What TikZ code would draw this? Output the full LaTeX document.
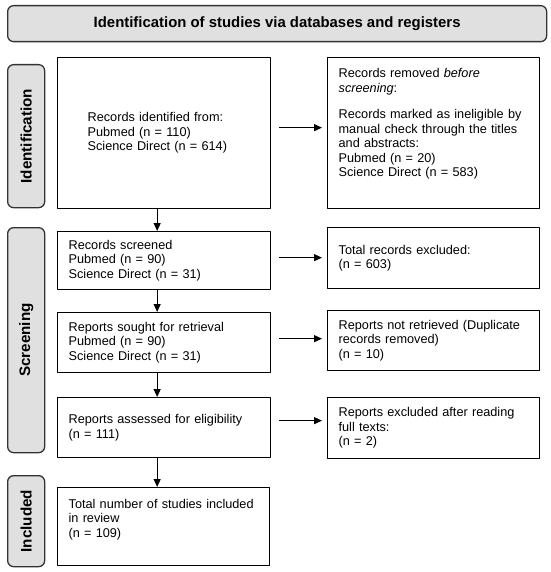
\documentclass[tikz,border=0pt]{standalone}
\usepackage{fontspec}
\setmainfont{Liberation Sans}
\usepackage{tikz}
\usetikzlibrary{arrows.meta}
\definecolor{ccgray}{rgb}{0.88,0.88,0.88}
\definecolor{qqdark}{rgb}{0.2,0.2,0.2}
\newcommand{\boxfont}{\fontsize{12.7}{14.5}\selectfont}

\begin{document}
\begin{tikzpicture}[line cap=round,line join=round,>={Triangle[length=8pt,width=7pt]},x=1pt,y=-1pt,
  stagebox/.style={draw=qqdark,fill=ccgray,line width=1.3pt,rounded corners=6pt,anchor=north west,inner sep=0pt},
  flowbox/.style={draw=black,line width=1.3pt,anchor=north west,align=left,inner xsep=11pt,inner ysep=0pt,font=\boxfont},
  arr/.style={->,line width=1.2pt,line cap=butt}]

\useasboundingbox (0,0) rectangle (550,572);

% title and stages
\node[stagebox,minimum width=539pt,minimum height=36pt,font=\fontsize{14.9}{17}\selectfont\bfseries] (title) at (7,5) {Identification of studies via databases and registers};
\node[stagebox,minimum width=37pt,minimum height=143pt] (stident) at (7,64) {};
\node[rotate=90,font=\fontsize{15.2}{17}\selectfont\bfseries] at (stident.center) {Identification};
\node[stagebox,minimum width=37pt,minimum height=225pt] (stscreen) at (7,227) {};
\node[rotate=90,font=\fontsize{15.2}{17}\selectfont\bfseries] at (stscreen.center) {Screening};
\node[stagebox,minimum width=37pt,minimum height=91pt] (stincl) at (7,475) {};
\node[rotate=90,font=\fontsize{15.2}{17}\selectfont\bfseries] at (stincl.center) {Included};

% left column
\node[flowbox,inner xsep=30pt,text width=153pt,minimum height=151pt] (ident) at (57,57) {Records identified from:\\Pubmed (n = 110)\\Science Direct (n = 614)};
\node[flowbox,text width=191pt,minimum height=58pt] (screened) at (57,231) {Records screened\\Pubmed (n = 90)\\Science Direct (n = 31)};
\node[flowbox,text width=191pt,minimum height=60pt] (sought) at (57,312) {Reports sought for retrieval\\Pubmed (n = 90)\\Science Direct (n = 31)};
\node[flowbox,text width=191pt,minimum height=60pt] (assessed) at (57,397) {Reports assessed for eligibility\\(n = 111)};
\node[flowbox,text width=190pt,minimum height=78pt] (total) at (57,487) {Total number of studies included\\in review\\(n = 109)\\[-2pt]\strut};

% right column
\node[flowbox,text width=190pt,minimum height=151pt] (removed) at (327,57) {Records removed \textit{before}\\\textit{screening}:\\[12pt]Records marked as ineligible by\\manual check through the titles\\and abstracts:\\Pubmed (n = 20)\\Science Direct (n = 583)\\[2pt]\strut};
\node[flowbox,text width=190pt,minimum height=61pt] (excluded) at (327,227) {Total records excluded:\\(n = 603)};
\node[flowbox,text width=190pt,minimum height=60pt] (notretr) at (327,310) {Reports not retrieved (Duplicate\\records removed)\\(n = 10)};
\node[flowbox,text width=190pt,minimum height=61pt] (exclfull) at (327,397) {Reports excluded after reading\\full texts:\\(n = 2)};

% down arrows
\draw[arr] ([xshift=-7pt]ident.south) -- ([xshift=-7pt]ident.south |- screened.north);
\draw[arr] ([xshift=-7pt]screened.south) -- ([xshift=-7pt]screened.south |- sought.north);
\draw[arr] ([xshift=-7pt]sought.south) -- ([xshift=-7pt]sought.south |- assessed.north);
\draw[arr] ([xshift=-7pt]assessed.south) -- ([xshift=-7pt]assessed.south |- total.north);

% side arrows
\draw[arr,shorten <=8pt,shorten >=5pt] ([yshift=5.5pt]ident.east) -- ([yshift=5.5pt]ident.east -| removed.west);
\draw[arr,shorten <=8pt,shorten >=5pt] ([yshift=3pt]screened.east) -- ([yshift=3pt]screened.east -| excluded.west);
\draw[arr,shorten <=8pt,shorten >=5pt] ([yshift=4pt]sought.east) -- ([yshift=4pt]sought.east -| notretr.west);
\draw[arr,shorten <=8pt,shorten >=5pt] ([yshift=7pt]assessed.east) -- ([yshift=7pt]assessed.east -| exclfull.west);

\end{tikzpicture}
\end{document}
